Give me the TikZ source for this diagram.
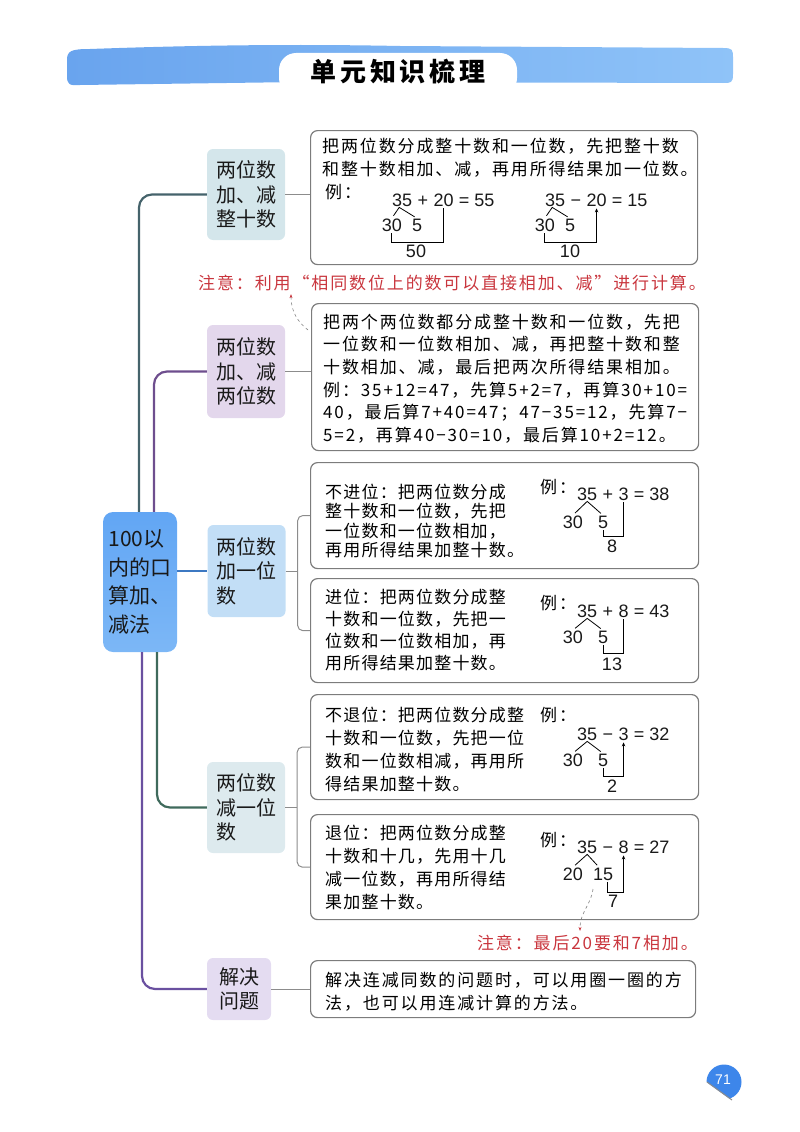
\documentclass[tikz,border=0pt]{standalone}
\usepackage{fontspec}
\setmainfont{Liberation Sans}
\newfontfamily\cjk{Noto Sans CJK SC}
\newfontfamily\cjkspaced[LetterSpace=11]{Noto Sans CJK SC}
\newfontfamily\cjknarrow[LetterSpace=7]{Noto Sans CJK SC}
\newfontfamily\cjktitle[LetterSpace=14]{Noto Sans CJK SC}
\usetikzlibrary{arrows.meta}

\definecolor{barleft}{HTML}{69A4EE}
\definecolor{barright}{HTML}{8FC3F8}
\definecolor{roottop}{HTML}{62A6F4}
\definecolor{rootbottom}{HTML}{7CB7F6}
\definecolor{fillone}{HTML}{D4E6EB}
\definecolor{filltwo}{HTML}{E3D7EC}
\definecolor{fillthree}{HTML}{C2DEF6}
\definecolor{fillfour}{HTML}{DDEAEE}
\definecolor{fillfive}{HTML}{E4DCF1}
\definecolor{stemone}{HTML}{45636B}
\definecolor{stemtwo}{HTML}{6E4E8E}
\definecolor{stemthree}{HTML}{3C78C2}
\definecolor{stemfour}{HTML}{3F6A5C}
\definecolor{stemfive}{HTML}{6A50A0}
\definecolor{boxgray}{HTML}{7C7C7C}
\definecolor{twiggray}{HTML}{8C8C8C}
\definecolor{notered}{HTML}{C9363E}
\definecolor{badgeblue}{HTML}{3D86EA}

\begin{document}
\begin{tikzpicture}[x=1pt, y=-1pt,
    topic/.style = {rounded corners=6pt, inner sep=0pt, minimum width=78pt, align=left,
        text=black!90, font=\cjk\fontsize{20}{24.5}\selectfont},
    rootbox/.style = {rounded corners=10pt, inner sep=0pt, minimum width=74pt, minimum height=140pt,
        top color=roottop, bottom color=rootbottom, align=left, text=black!90,
        font=\cjk\fontsize{21}{28.5}\selectfont},
    leaf/.style = {draw=boxgray, line width=1.2pt, rounded corners=7pt, anchor=north west, inner sep=0pt},
    say/.style = {anchor=west, inner sep=0pt, align=left, text=black,
        font=\cjkspaced\fontsize{17}{23}\selectfont},
    num/.style = {inner sep=0pt, anchor=base west, text=black!90, font=\fontsize{18}{18}\selectfont},
    stem/.style = {line width=2.2pt, rounded corners=13pt},
    twig/.style = {draw=twiggray, line width=1pt},
    split/.style = {line width=0.8pt, shorten <=3pt, shorten >=3pt},
    brace/.style = {line width=0.9pt, shorten <=2pt, shorten >=2pt},
    up/.style = {-{Stealth[length=4pt, width=3.5pt]}},
    hint/.style = {gray, dashed, line width=0.6pt, -{Stealth[length=4pt, width=3pt, color=notered]}},
]
\useasboundingbox (0,0) rectangle (800,1132);

% title bar
\shade[left color=barleft, right color=barright]
    (67,60) .. controls (67,51) and (71,49) .. (90,49) .. controls (200,45) and (300,44) .. (400,46)
    -- (723,48) .. controls (733,48) and (733,50) .. (733,58) -- (733,74)
    .. controls (733,83) and (731,83) .. (723,83) -- (300,82) -- (80,85)
    .. controls (69,86) and (67,84) .. (67,76) -- cycle;
\fill[white, rounded corners=17pt] (279,95) -- (279,53) -- (517,53) -- (517,95) -- cycle;
\node[inner sep=0pt, font=\cjktitle\bfseries\fontsize{26}{26}\selectfont] (title) at (398,71.5) {单元知识梳理};

% tree
\node[rootbox] (root) at (140,582) {100以\\内的口\\算加、\\减法};
\node[topic, fill=fillone, minimum height=91pt] (c1) at (246,194.5) {两位数\\加、减\\整十数};
\node[topic, fill=filltwo, minimum height=93pt] (c2) at (246,371.5) {两位数\\加、减\\两位数};
\node[topic, fill=fillthree, minimum height=92pt] (c3) at (246.5,571) {两位数\\加一位\\数};
\node[topic, fill=fillfour, minimum height=91pt] (c4) at (246,807.5) {两位数\\减一位\\数};
\node[topic, fill=fillfive, minimum width=64pt, minimum height=62pt] (c5) at (239,989) {解决\\问题};

\draw[stem, draw=stemone] ([xshift=-1pt]root.north) |- (c1.west);
\draw[stem, draw=stemtwo] ([xshift=14pt]root.north) |- (c2.west);
\draw[stem, draw=stemthree] (root.east |- c3.west) -- (c3.west);
\draw[stem, draw=stemfour] ([xshift=17pt]root.south) |- (c4.west);
\draw[stem, draw=stemfive] ([xshift=2pt]root.south) |- (c5.west);

% boxes
\node[leaf, minimum width=387pt, minimum height=134pt] (b1) at (310,130) {};
\node[leaf, minimum width=387pt, minimum height=147pt] (b2) at (311,303) {};
\node[leaf, minimum width=388pt, minimum height=106pt] (b3) at (310,462) {};
\node[leaf, minimum width=388pt, minimum height=104pt] (b4) at (310,578) {};
\node[leaf, minimum width=388pt, minimum height=105pt] (b5) at (310,694) {};
\node[leaf, minimum width=388pt, minimum height=105pt] (b6) at (310,814) {};
\node[leaf, minimum width=385pt, minimum height=57pt] (b7) at (310,960) {};

\draw[twig] (c1.east) -- (c1.east -| b1.west);
\draw[twig] (c2.east) -- (c2.east -| b2.west);
\draw[twig] (c5.east) -- (c5.east -| b7.west);
\coordinate (k3) at ([xshift=12pt]c3.east);
\coordinate (k4) at ([xshift=12pt]c4.east);
\draw[twig] (c3.east) -- (k3);
\draw[twig, rounded corners=5pt] (b3.west) -| (k3) |- (b4.west);
\draw[twig] (c4.east) -- (k4);
\draw[twig, rounded corners=5pt] (b5.west) -| (k4) |- (b6.west);

% texts
\node[say] (t1) at (322,157.5) {把两位数分成整十数和一位数，先把整十数\\和整十数相加、减，再用所得结果加一位数。};
\node[say, font=\cjkspaced\fontsize{17}{22.6}\selectfont] (t2) at (323,378.5)
    {把两个两位数都分成整十数和一位数，先把\\一位数和一位数相加、减，再把整十数和整\\十数相加、减，最后把两次所得结果相加。\\例：35+12=47，先算5+2=7，再算30+10=\\40，最后算7+40=47；47−35=12，先算7−\\5=2，再算40−30=10，最后算10+2=12。};
\node[say, font=\cjknarrow\fontsize{17}{19.5}\selectfont] (t3) at (325,521)
    {不进位：把两位数分成\\整十数和一位数，先把\\一位数和一位数相加，\\再用所得结果加整十数。};
\node[say, font=\cjknarrow\fontsize{17}{22}\selectfont] (t4) at (325,630)
    {进位：把两位数分成整\\十数和一位数，先把一\\位数和一位数相加，再\\用所得结果加整十数。};
\node[say, font=\cjknarrow\fontsize{17}{23}\selectfont] (t5) at (325,749.5)
    {不退位：把两位数分成整\\十数和一位数，先把一位\\数和一位数相减，再用所\\得结果加整十数。};
\node[say, font=\cjknarrow\fontsize{17}{23}\selectfont] (t6) at (325,867.5)
    {退位：把两位数分成整\\十数和十几，先用十几\\减一位数，再用所得结\\果加整十数。};
\node[say] (t7) at (325,991.5) {解决连减同数的问题时，可以用圈一圈的方\\法，也可以用连减计算的方法。};

\node[say] (e1) at (325,192) {例：};
\node[say] (e3) at (540,487) {例：};
\node[say] (e4) at (540,603) {例：};
\node[say] (e5) at (540,715) {例：};
\node[say] (e6) at (540,840) {例：};

% 35 + 20 = 55
\node[num] (k1) at (392,206) {35};
\node[num] (k1op) at (k1.base east) {\kern5pt+\kern5pt};
\node[num] (k1b) at (k1op.base east) {20};
\node[num] (k1r) at (k1b.base east) {~=~55};
\node[num, anchor=base east] (k1l) at (402,231) {30};
\node[num] (k1p) at (412,231) {5};
\draw[split] (k1l.north) -- ([shift={(-3pt,-1pt)}]k1.south) -- (k1p.north);
\draw[brace] (k1l.south) -- ++(0,11) -| (k1b.south);
\node[num, anchor=base] (k1s) at (416,257) {50};

% 35 - 20 = 15
\node[num] (k2) at (545,206) {35};
\node[num] (k2op) at (k2.base east) {\kern5pt−\kern5pt};
\node[num] (k2b) at (k2op.base east) {20};
\node[num] (k2r) at (k2b.base east) {~=~15};
\node[num, anchor=base east] (k2l) at (555,231) {30};
\node[num] (k2p) at (565,231) {5};
\draw[split] (k2l.north) -- ([shift={(-3pt,-1pt)}]k2.south) -- (k2p.north);
\draw[brace, up] (k2l.south) -- ++(0,11) -| (k2b.south);
\node[num, anchor=base] (k2s) at (570,257) {10};

% 35 + 3 = 38
\node[num] (k3n) at (577,500) {35};
\node[num] (k3op) at (k3n.base east) {\kern5pt+\kern5pt};
\node[num] (k3b) at (k3op.base east) {3};
\node[num] (k3r) at (k3b.base east) {~=~38};
\node[num, anchor=base east] (k3l) at (583,528) {30};
\node[num] (k3p) at (598,528) {5};
\draw[split] (k3l.north) -- ([yshift=-1pt]k3n.south) -- (k3p.north);
\draw[brace] (k3p.south) -- ++(0,8) -| (k3b.south);
\node[num, anchor=base] (k3s) at (612,552) {8};

% 35 + 8 = 43
\node[num] (k4n) at (577,617) {35};
\node[num] (k4op) at (k4n.base east) {\kern5pt+\kern5pt};
\node[num] (k4b) at (k4op.base east) {8};
\node[num] (k4r) at (k4b.base east) {~=~43};
\node[num, anchor=base east] (k4l) at (583,643) {30};
\node[num] (k4p) at (598,643) {5};
\draw[split] (k4l.north) -- ([yshift=-1pt]k4n.south) -- (k4p.north);
\draw[brace] (k4p.south) -- ++(0,10) -| (k4b.south);
\node[num, anchor=base] (k4s) at (612,670) {13};

% 35 - 3 = 32
\node[num] (k5n) at (577,740) {35};
\node[num] (k5op) at (k5n.base east) {\kern5pt−\kern5pt};
\node[num] (k5b) at (k5op.base east) {3};
\node[num] (k5r) at (k5b.base east) {~=~32};
\node[num, anchor=base east] (k5l) at (583,766) {30};
\node[num] (k5p) at (598,766) {5};
\draw[split] (k5l.north) -- ([yshift=-1pt]k5n.south) -- (k5p.north);
\draw[brace, up] (k5p.south) -- ++(0,10) -| (k5b.south);
\node[num, anchor=base] (k5s) at (612,792) {2};

% 35 - 8 = 27
\node[num] (k6n) at (577,853) {35};
\node[num] (k6op) at (k6n.base east) {\kern5pt−\kern5pt};
\node[num] (k6b) at (k6op.base east) {8};
\node[num] (k6r) at (k6b.base east) {~=~27};
\node[num, anchor=base east] (k6l) at (583,880) {20};
\node[num] (k6p) at (593,880) {15};
\draw[split] (k6l.north) -- ([yshift=-1pt]k6n.south) -- ([xshift=-4pt]k6p.north);
\draw[brace, up] ([xshift=4pt]k6p.south) -- ++(0,12) -| (k6b.south);
\node[num, anchor=base] (k6s) at (613,907) {7};

% notes
\node[say, text=notered] (n1) at (198,283) {注意：利用“相同数位上的数可以直接相加、减”进行计算。};
\node[say, anchor=east, text=notered] (n2) at (698,943) {注意：最后20要和7相加。};
\coordinate (h1) at (308,330);
\path (n1.south west) ++(93,3) coordinate (h1end);
\draw[hint] (h1) .. controls (298,322) and (291,312) .. (h1end);
\coordinate (h2) at (593,889);
\path (h2 |- n2.north) ++(-13,-4) coordinate (h2end);
\draw[hint] (h2) .. controls (591,905) and (580,912) .. (h2end);

% page number
\begin{scope}
    \clip (690,1070) -- (745,1110) -- (760,1040) -- (690,1040) -- cycle;
    \fill[badgeblue] (724,1082) circle (17.5);
\end{scope}
\draw[twiggray, line width=1pt] (707,1082) -- (732,1100);
\node[text=white, inner sep=0pt, font=\fontsize{14}{14}\selectfont] (pg) at (723,1080) {71};
\end{tikzpicture}
\end{document}
